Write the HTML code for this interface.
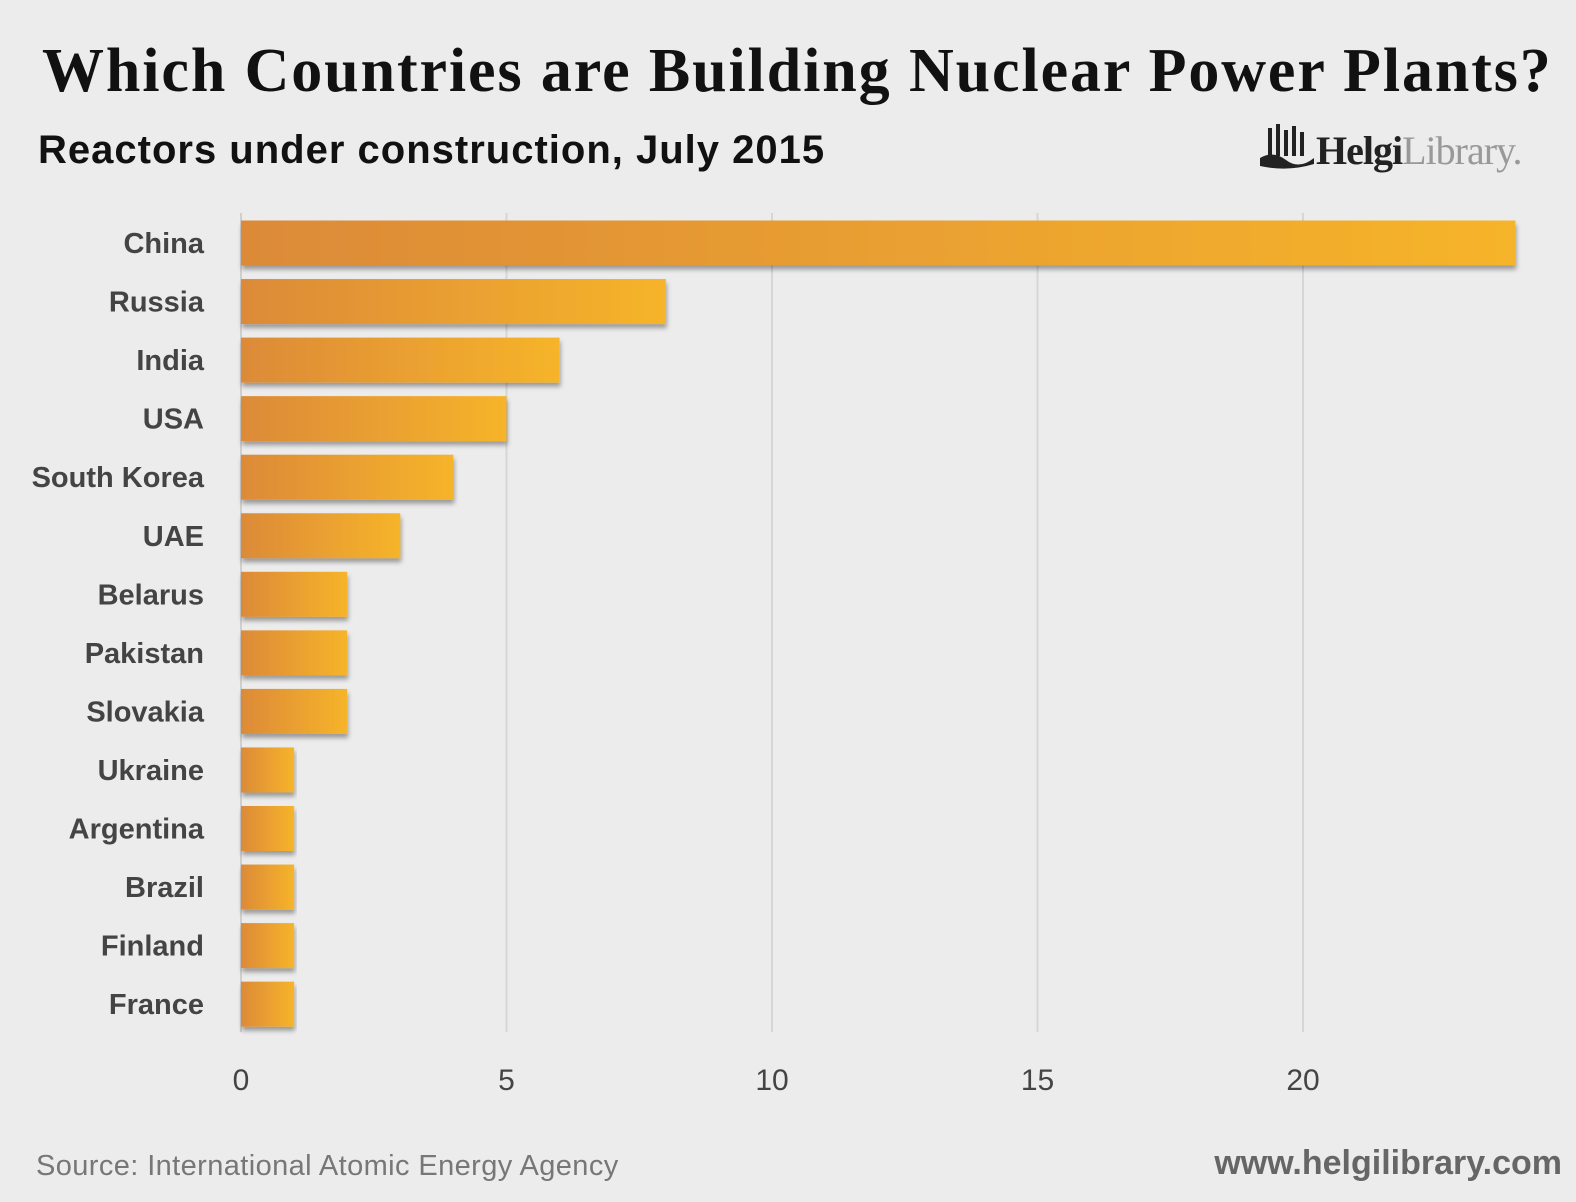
<!DOCTYPE html>
<html><head><meta charset="utf-8"><style>
html,body{margin:0;padding:0;background:#ececec;}
body{width:1576px;height:1202px;position:relative;overflow:hidden;font-family:"Liberation Sans",sans-serif;}
.t{position:absolute;white-space:nowrap;}
</style></head><body>
<div class="t" style="left:42px;top:36px;font-family:'Liberation Serif',serif;font-weight:bold;font-size:62px;color:#111;letter-spacing:1.9px;">Which Countries are Building Nuclear Power Plants?</div>
<div class="t" style="left:38px;top:128px;font-size:40px;color:#111;font-weight:bold;letter-spacing:1px;">Reactors under construction, July 2015</div>
<div class="t" style="left:1258px;top:120px;font-family:'Liberation Serif',serif;font-size:40px;color:#222;">
<svg width="58" height="52" style="vertical-align:-8px"><g fill="#222"><rect x="10" y="8" width="4" height="28"/><rect x="18" y="4" width="4" height="32"/><rect x="26" y="10" width="4" height="26"/><rect x="34" y="6" width="4" height="30"/><rect x="42" y="12" width="4" height="24"/><path d="M2 38 Q15 30 28 40 T56 38 L56 44 Q30 52 2 46Z"/></g></svg><span style="font-weight:bold;letter-spacing:-1px">Helgi</span><span style="color:#999;letter-spacing:-1px">Library.</span></div>
<svg id="c" width="1576" height="1202" style="position:absolute;left:0;top:0">
<defs><linearGradient id="g" x1="0" x2="1" y1="0" y2="0"><stop offset="0" stop-color="#dc8a38"/><stop offset="1" stop-color="#f6b42a"/></linearGradient>
<filter id="sh" x="-5%" y="-20%" width="110%" height="160%"><feDropShadow dx="1" dy="4" stdDeviation="2.5" flood-color="#000" flood-opacity="0.35"/></filter></defs>
</svg>
<div class="t" style="left:36px;top:1150px;font-size:29px;color:#777;letter-spacing:0.4px;">Source: International Atomic Energy Agency</div>
<div class="t" style="right:14px;top:1144px;font-size:34px;color:#666;font-weight:bold;">www.helgilibrary.com</div>
<script>
const categories=["China","Russia","India","USA","South Korea","UAE","Belarus","Pakistan","Slovakia","Ukraine","Argentina","Brazil","Finland","France"];
const values=[24,8,6,5,4,3,2,2,2,1,1,1,1,1];
const ticks=[0,5,10,15,20];
const NS="http://www.w3.org/2000/svg";
const svg=document.getElementById('c');
const x=v=>241+v*53.1;
const yc=i=>243+i*58.55;
function mk(t,a){const e=document.createElementNS(NS,t);for(const k in a)e.setAttribute(k,a[k]);svg.appendChild(e);return e;}
ticks.forEach(t=>{
  const l=mk('line',{x1:x(t),x2:x(t),y1:213,y2:1032,stroke:t===0?'#cfcfcf':'#d6d6d6','stroke-width':2});
  
  
  const tx=mk('text',{x:x(t),y:1090,'text-anchor':'middle','font-size':30,fill:'#444','font-family':'Liberation Sans, sans-serif'});
  tx.textContent=t;
  
  
});
categories.forEach((c,i)=>{
  const r=mk('rect',{x:x(0),y:yc(i)-22.5,width:x(values[i])-x(0),height:45,fill:'url(#g)',filter:'url(#sh)'});
  
  
  const tx=mk('text',{x:204,y:yc(i)+10,'text-anchor':'end','font-size':29,'font-weight':'bold',fill:'#444','font-family':'Liberation Sans, sans-serif'});
  tx.textContent=c;
  
  
});
</script>
</body></html>
